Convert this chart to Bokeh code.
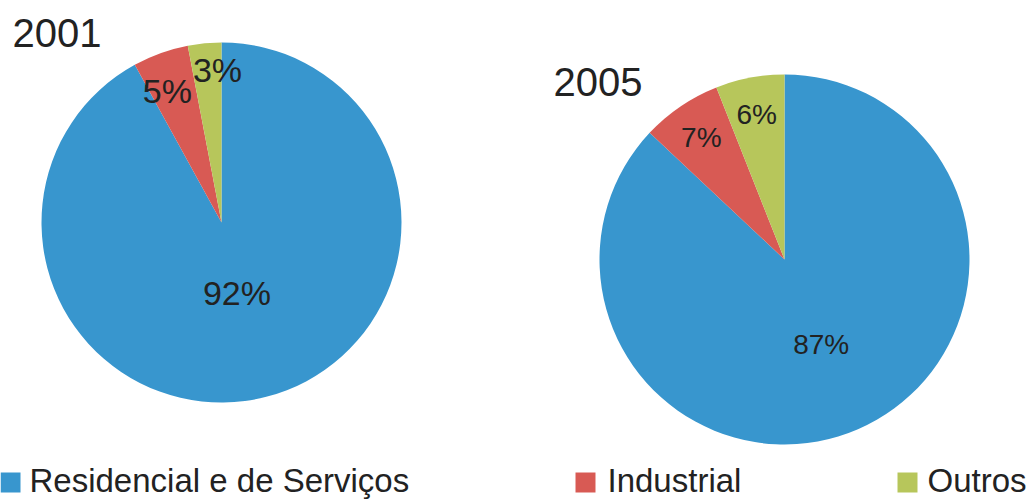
import math
from bokeh.plotting import figure
from bokeh.models import ColumnDataSource
from bokeh.core.properties import value
from bokeh.embed import file_html
from bokeh.resources import INLINE

# ---- data ----
categories = ["Residencial e de Serviços", "Industrial", "Outros"]
years = ["2001", "2005"]
values_2001 = [92, 5, 3]
values_2005 = [87, 7, 6]
colors = ["#3896CE", "#D85A54", "#B7C65B"]

W, H = 1030, 499
FONT = "Liberation Sans"
TXT = "#222222"

p = figure(width=W, height=H, x_range=(0, W), y_range=(0, H),
           toolbar_location=None, output_backend="svg", min_border=0)
p.axis.visible = False
p.grid.visible = False
p.outline_line_color = None
p.background_fill_color = "white"
p.border_fill_color = "white"

def Y(py):
    return H - py

pies = [
    # (values, cx, cy, r, label radius fractions, label angle tweaks (deg), label font, year pos)
    (values_2001, 221, 222, 180, [0.40, 0.79, 0.85], [2, -2.6, 3.9], "34px", (12, 32)),
    (values_2005, 784, 259, 185, [0.50, 0.80, 0.80], [0, 0, 0], "28px", (553, 81)),
]

for (vals, cx, cy, r, lf, tw, lfont, ypos), year in zip(pies, years):
    total = float(sum(vals))
    starts, ends, lx, ly, labels = [], [], [], [], []
    a = math.pi / 2
    for v, f, t in zip(vals, lf, tw):
        span = v / total * 2 * math.pi
        starts.append(a)
        ends.append(a - span)
        mid = a - span / 2 - math.radians(t)
        lx.append(cx + f * r * math.cos(mid))
        ly.append(Y(cy) + f * r * math.sin(mid))
        labels.append(f"{v}%")
        a -= span
    src = ColumnDataSource(dict(x=[cx] * len(vals), y=[Y(cy)] * len(vals),
                                start=starts, end=ends, color=colors))
    p.wedge(x="x", y="y", radius=r, radius_units="screen",
            start_angle="start", end_angle="end", direction="clock",
            fill_color="color", line_color=None, source=src)
    p.text(x=lx, y=ly, text=labels, text_align="center", text_baseline="middle",
           text_font=value(FONT), text_font_size=lfont, text_color=TXT)
    p.text(x=[ypos[0]], y=[Y(ypos[1])], text=[year], text_align="left",
           text_baseline="middle", text_font=value(FONT),
           text_font_size="40px", text_color=TXT)

# ---- legend ----
leg_x = [0, 575, 897]
text_x = [29, 607, 927]
sq = 20
p.rect(x=[lx_ + sq / 2 for lx_ in leg_x], y=[Y(482)] * 3, width=sq, height=sq,
       width_units="screen", height_units="screen",
       fill_color=colors, line_color=None)
p.text(x=text_x, y=[Y(480)] * 3, text=categories, text_align="left",
       text_baseline="middle", text_font=value(FONT),
       text_font_size="33px", text_color=TXT)

open("out.html", "w").write(file_html(p, INLINE))
